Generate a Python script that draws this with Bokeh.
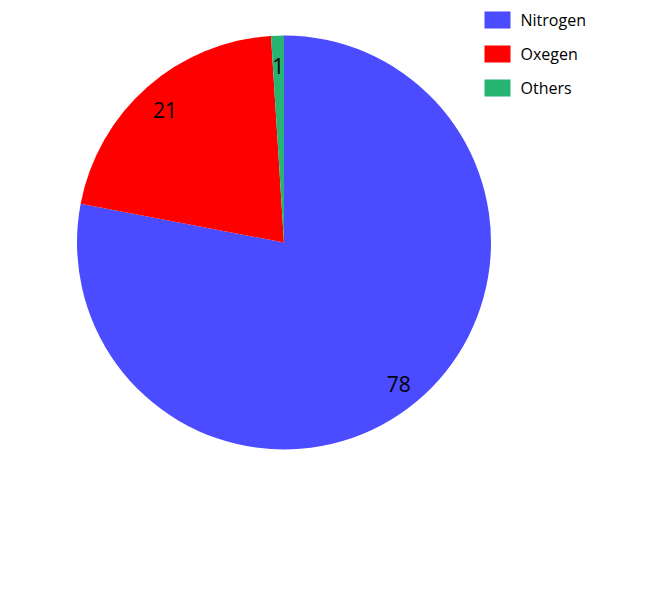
import math
from bokeh.plotting import figure
from bokeh.models import Range1d, ColumnDataSource
from bokeh.core.properties import value
from bokeh.embed import file_html
from bokeh.resources import INLINE

categories = ["Nitrogen", "Oxegen", "Others"]
values = [78, 21, 1]
colors = ["#4b4bff", "#ff0000", "#27b473"]

W, H = 651, 584
p = figure(width=W, height=H, output_backend="svg", toolbar_location=None,
           x_range=Range1d(0, W), y_range=Range1d(600 - H, 600),
           min_border=0, outline_line_color=None)
p.axis.visible = False
p.grid.visible = False
p.background_fill_color = "white"

# data coordinates: x = page px, y = 600 - page px
cx, cy, R = 283.5, 600 - 242, 207
label_r = 180

total = sum(values)
starts, ends, lx, ly = [], [], [], []
acc = 0.0
for v in values:
    a0 = math.pi / 2 - 2 * math.pi * acc / total
    a1 = math.pi / 2 - 2 * math.pi * (acc + v) / total
    starts.append(a0)
    ends.append(a1)
    mid = (a0 + a1) / 2
    lx.append(cx + label_r * math.cos(mid))
    ly.append(cy + label_r * math.sin(mid))
    acc += v

src = ColumnDataSource(dict(cat=categories, val=values, color=colors,
                            start=starts, end=ends, lx=lx, ly=ly,
                            txt=[str(v) for v in values]))

p.wedge(x=cx, y=cy, radius=R, start_angle="start", end_angle="end",
        direction="clock", fill_color="color", line_color=None, source=src)

p.text(x="lx", y="ly", text="txt", source=src, text_align="center",
       text_baseline="middle", y_offset=3, text_font=value("Open Sans"),
       text_font_size="21px", text_color="black")

# legend (top right)
leg_y = [600 - (19.5 + 34 * i) for i in range(len(categories))]
leg_src = ColumnDataSource(dict(cat=categories, color=colors, y=leg_y))
p.rect(x=497, y="y", width=26, height=17, width_units="screen",
       height_units="screen", fill_color="color", line_color=None, source=leg_src)
p.text(x=520, y="y", text="cat", source=leg_src, text_align="left",
       text_baseline="middle", text_font=value("Open Sans"),
       text_font_size="16px", text_color="black")

open("out.html", "w").write(file_html(p, INLINE))
